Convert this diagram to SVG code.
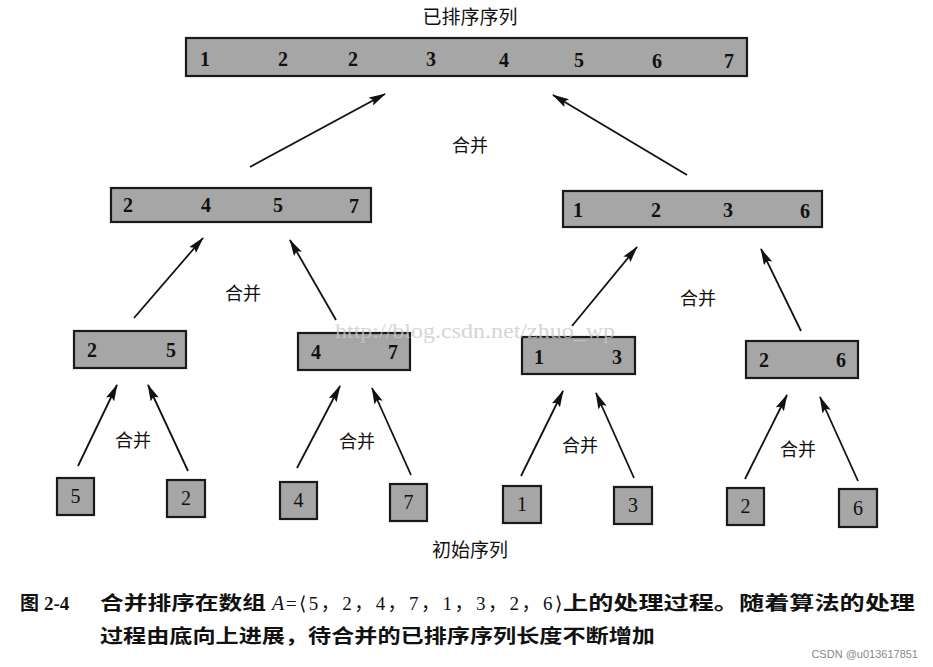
<svg xmlns="http://www.w3.org/2000/svg" width="933" height="667" viewBox="0 0 933 667">
<defs>
<style>
.box{fill:#a6a6a6;stroke:#1a1a1a;stroke-width:2.2}
.num{font-family:"Liberation Serif","DejaVu Serif",serif;font-size:20px;font-weight:bold;fill:#111;text-anchor:middle}
.leaf{font-family:"Liberation Serif","DejaVu Serif",serif;font-size:20px;fill:#111;text-anchor:middle}
.lbl{font-family:"Noto Sans CJK SC","Noto Sans",sans-serif;font-size:18px;fill:#111;text-anchor:middle}
.cap{font-family:"Noto Sans CJK SC","Noto Sans",sans-serif;font-size:19px;font-weight:bold;fill:#111}
.edge{stroke:#111;stroke-width:1.8;fill:none;marker-end:url(#ah)}
</style>
<marker id="ah" viewBox="0 0 17 9" refX="16" refY="4.5" markerWidth="17" markerHeight="9" markerUnits="userSpaceOnUse" orient="auto">
<path d="M0,0 L17,4.5 L0,9 L3,4.5 Z" fill="#111"/>
</marker>
</defs>
<rect width="933" height="667" fill="#fff"/>

<text class="lbl" x="470" y="24" style="font-size:19px">已排序序列</text>

<g id="n-top">
<rect class="box" x="186" y="38" width="561" height="38"/>
<text class="num" x="205" y="66">1</text>
<text class="num" x="283" y="66">2</text>
<text class="num" x="353" y="66">2</text>
<text class="num" x="431" y="66">3</text>
<text class="num" x="504" y="67">4</text>
<text class="num" x="579" y="67">5</text>
<text class="num" x="657" y="68">6</text>
<text class="num" x="729" y="68">7</text>
</g>

<g id="n-l2a">
<rect class="box" x="111" y="188" width="260" height="34"/>
<text class="num" x="128" y="212">2</text>
<text class="num" x="206" y="212">4</text>
<text class="num" x="278" y="212">5</text>
<text class="num" x="354" y="213">7</text>
</g>

<g id="n-l2b">
<rect class="box" x="563" y="191" width="259" height="36"/>
<text class="num" x="578" y="217">1</text>
<text class="num" x="656" y="217">2</text>
<text class="num" x="728" y="217">3</text>
<text class="num" x="805" y="218">6</text>
</g>

<g id="n-l3a">
<rect class="box" x="74" y="331" width="112" height="37"/>
<text class="num" x="92" y="357">2</text>
<text class="num" x="171" y="357">5</text>
</g>
<g id="n-l3b">
<rect class="box" x="298" y="333" width="112" height="37"/>
<text class="num" x="316" y="359">4</text>
<text class="num" x="393" y="359">7</text>
</g>
<g id="n-l3c">
<rect class="box" x="522" y="337" width="113" height="37"/>
<text class="num" x="539" y="364">1</text>
<text class="num" x="617" y="364">3</text>
</g>
<g id="n-l3d">
<rect class="box" x="746" y="341" width="112" height="37"/>
<text class="num" x="764" y="367">2</text>
<text class="num" x="841" y="367">6</text>
</g>

<g id="leaf-5"><rect class="box" x="57" y="478" width="37" height="37"/><text class="leaf" x="75.5" y="503">5</text></g>
<g id="leaf-2a"><rect class="box" x="167" y="480" width="38" height="37"/><text class="leaf" x="186" y="505">2</text></g>
<g id="leaf-4"><rect class="box" x="280" y="482" width="37" height="37"/><text class="leaf" x="298.5" y="507">4</text></g>
<g id="leaf-7"><rect class="box" x="390" y="484" width="37" height="37"/><text class="leaf" x="408.5" y="509">7</text></g>
<g id="leaf-1"><rect class="box" x="503" y="486" width="38" height="37"/><text class="leaf" x="522" y="511">1</text></g>
<g id="leaf-3"><rect class="box" x="614" y="487" width="38" height="37"/><text class="leaf" x="633" y="512">3</text></g>
<g id="leaf-2b"><rect class="box" x="727" y="488" width="37" height="37"/><text class="leaf" x="745.5" y="513">2</text></g>
<g id="leaf-6"><rect class="box" x="839" y="489" width="38" height="38"/><text class="leaf" x="858" y="515">6</text></g>

<g id="connectors">
<line class="edge" x1="250" y1="167" x2="385" y2="94"/>
<line class="edge" x1="687" y1="175" x2="553" y2="95"/>
<line class="edge" x1="134" y1="318" x2="203" y2="238"/>
<line class="edge" x1="336" y1="320" x2="290" y2="240"/>
<line class="edge" x1="572" y1="326" x2="637" y2="247"/>
<line class="edge" x1="801" y1="331" x2="761" y2="249"/>
<line class="edge" x1="78" y1="466" x2="117" y2="385"/>
<line class="edge" x1="188" y1="471" x2="148" y2="385"/>
<line class="edge" x1="297" y1="468" x2="340" y2="386"/>
<line class="edge" x1="411" y1="475" x2="372" y2="388"/>
<line class="edge" x1="521" y1="476" x2="563" y2="391"/>
<line class="edge" x1="634" y1="478" x2="596" y2="393"/>
<line class="edge" x1="745" y1="479" x2="787" y2="395"/>
<line class="edge" x1="858" y1="481" x2="820" y2="397"/>
</g>

<g id="labels">
<text class="lbl" x="470" y="152">合并</text>
<text class="lbl" x="243" y="300">合并</text>
<text class="lbl" x="698" y="305">合并</text>
<text class="lbl" x="133" y="447">合并</text>
<text class="lbl" x="357" y="448">合并</text>
<text class="lbl" x="580" y="452">合并</text>
<text class="lbl" x="798" y="456">合并</text>
<text class="lbl" x="470" y="557" style="font-size:19px">初始序列</text>
</g>

<text x="335" y="338" style="font-family:'Liberation Serif',serif;font-size:20px;fill:#c8c8c8;opacity:0.75" textLength="280" lengthAdjust="spacingAndGlyphs">http://blog.csdn.net/zhuo_wp</text>

<g id="caption">
<text class="cap" x="20" y="610">图</text>
<text x="44" y="610" style="font-family:'Liberation Serif',serif;font-size:19px;font-weight:bold;fill:#111">2-4</text>
<text class="cap" x="100" y="610" textLength="166" lengthAdjust="spacingAndGlyphs">合并排序在数组</text>
<text x="272" y="610" style="font-family:'Liberation Serif',serif;font-size:20px;font-style:italic;fill:#111">A</text>
<text x="286" y="610" style="font-family:'Liberation Serif','Noto Sans CJK SC',serif;font-size:19px;fill:#111" textLength="276" lengthAdjust="spacing">=⟨5，2，4，7，1，3，2，6⟩</text>
<text class="cap" x="563" y="610" textLength="352" lengthAdjust="spacingAndGlyphs">上的处理过程。随着算法的处理</text>
<text class="cap" x="100" y="643" textLength="555" lengthAdjust="spacingAndGlyphs">过程由底向上进展，待合并的已排序序列长度不断增加</text>
<text x="918" y="658" style="font-family:'Liberation Sans',sans-serif;font-size:11px;fill:#888;text-anchor:end">CSDN @u013617851</text>
</g>
</svg>
